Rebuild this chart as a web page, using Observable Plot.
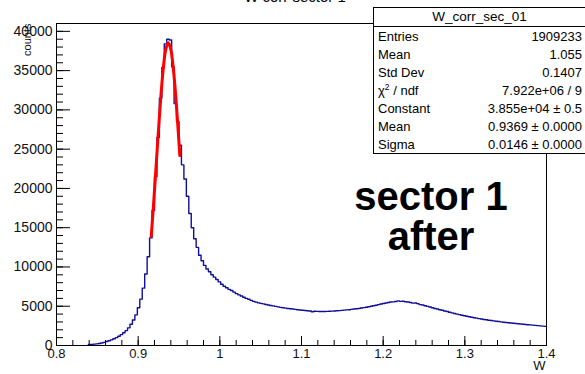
<!DOCTYPE html>
<html><head><meta charset="utf-8">
<script src="https://cdn.jsdelivr.net/npm/d3@7"></script>
<script src="https://cdn.jsdelivr.net/npm/@observablehq/plot@0.6"></script>
<style>
body{margin:0;background:#fff;}
#wrap{position:relative;width:585px;height:374px;overflow:hidden;font-family:"Liberation Sans",Arial,sans-serif;color:#000;}
#wrap svg{position:absolute;left:0;top:0;}
#title{position:absolute;left:0;width:590px;top:-11px;text-align:center;font-size:15px;line-height:15px;}
#stats{position:absolute;left:373px;top:7px;width:213px;height:147px;border:1px solid #000;background:#fff;box-sizing:border-box;font-size:13px;}
#stats .hd{position:absolute;left:0;right:0;top:0;height:18px;line-height:18px;text-align:center;border-bottom:1px solid #000;font-size:13.5px;}
#stats .row{position:absolute;left:4px;right:3px;height:18px;line-height:18px;white-space:nowrap;}
#stats .row .l{position:absolute;left:0;top:0;}
#stats .row .v{position:absolute;right:0;top:0;}
#stats sup{font-size:8.5px;line-height:0;vertical-align:5px;}
.big{position:absolute;font-weight:bold;font-size:40px;line-height:40px;text-align:center;width:200px;left:331px;}
</style></head>
<body><div id="wrap"></div>
<script>
// Histogram definition (ROOT TH1): 200 bins on [0.8, 1.4]
const histName = "W_corr_sec_01";
const titleText = "W corr sector 1";
const xMin = 0.8, xMax = 1.4, nBins = 200;
const counts = [
  0,0,0,0,0,0,0,0,0,0,0,0,0,
  120,140,170,210,260,320,400,500,600,720,
  860,1000,1180,1380,1620,1900,2250,2700,3250,3900,
  4800,5900,7300,9100,11300,13700,17200,21500,26500,31500,
  35400,38400,39000,38900,35500,30800,28500,25500,23000,21200,
  19000,16800,15000,13600,12500,11500,10800,10200,9750,9400,
  9000,8700,8400,8100,7800,7550,7350,7150,7000,6800,
  6600,6450,6300,6150,6000,5880,5750,5620,5520,5430,
  5370,5300,5230,5160,5100,5040,4980,4920,4860,4810,
  4760,4720,4680,4640,4600,4560,4520,4480,4450,4420,
  4390,4300,4370,4350,4330,4320,4330,4340,4360,4380,
  4400,4420,4440,4470,4500,4530,4560,4600,4640,4680,
  4720,4770,4820,4870,4930,4990,5060,5130,5200,5280,
  5350,5420,5480,5530,5560,5600,5680,5620,5640,5580,
  5540,5480,5400,5420,5330,5200,5150,5060,4980,4900,
  4800,4720,4640,4560,4480,4400,4320,4240,4160,4080,
  4000,3930,3860,3790,3720,3660,3600,3540,3480,3420,
  3370,3320,3270,3220,3180,3130,3090,3050,3010,2970,
  2930,2890,2860,2830,2800,2770,2740,2710,2680,2650,
  2620,2590,2560,2530,2500,2470,2440
];
// Gaussian fit curve
const fitW = [0.916,0.919,0.922,0.925,0.928,0.931,0.934,0.937,0.940,0.943,0.946,0.949,0.951];
const fitV = [13900,18180,22900,27650,32010,35530,37800,38550,37690,35330,31740,27340,24180];
// Axis ticks
const yMajor = [0,5000,10000,15000,20000,25000,30000,35000,40000];
const yMinor = d3.range(0, 41000, 1000);
const xMajor = [0.8,0.9,1.0,1.1,1.2,1.3,1.4];
const xMinor = d3.range(0, 31).map(i => 0.8 + i*0.02);
// Stats box
const statLabels = ["Entries","Mean","Std Dev","χ<sup>2</sup> / ndf","Constant","Mean","Sigma"];
const statValues = ["1909233","1.055","0.1407","7.922e+06 / 9","3.855e+04 ± 0.5","0.9369 ± 0.0000","0.0146 ± 0.0000"];
const annotation = ["sector 1","after"];

const binW = (xMax - xMin)/nBins;
const first = counts.findIndex(c => c > 0);
const outline = [];
counts.forEach((c,i) => { if (i < first) return; outline.push({x: xMin + i*binW, y: c}, {x: xMin + (i+1)*binW, y: c}); });
const fit = fitW.map((w,i) => ({x: w, y: fitV[i]}));

const font = "Liberation Sans, Arial, sans-serif";
const chart = Plot.plot({
  width: 585, height: 374,
  marginLeft: 56, marginRight: 39, marginTop: 23, marginBottom: 29,
  style: {fontFamily: font, background: "transparent", color: "#000"},
  x: {domain: [xMin, xMax]},
  y: {domain: [0, 41000]},
  marks: [
    Plot.line(outline, {x: "x", y: "y", stroke: "#10109a", strokeWidth: 1.4}),
    Plot.line(fit, {x: "x", y: "y", stroke: "#ff0000", strokeWidth: 3, curve: "catmull-rom"}),
    Plot.frame({stroke: "#000", strokeWidth: 1}),
    Plot.axisY({ticks: yMajor, tickSize: -14, tickFormat: () => "", label: null, stroke: "#000"}),
    Plot.axisY({ticks: yMinor, tickSize: -7, tickFormat: () => "", label: null, stroke: "#000"}),
    Plot.axisY({ticks: yMajor, tickSize: 0, tickPadding: 4, label: null, fontSize: 14, fill: "#111", tickFormat: d => String(d)}),
    Plot.axisX({ticks: xMajor, tickSize: -9, tickFormat: () => "", label: null, stroke: "#000"}),
    Plot.axisX({ticks: xMinor, tickSize: -5, tickFormat: () => "", label: null, stroke: "#000"}),
    Plot.axisX({ticks: xMajor, tickSize: 0, tickPadding: 3, label: null, fontSize: 13, fill: "#111", tickFormat: d => String(+d.toFixed(1))}),
    Plot.text(["W"], {frameAnchor: "bottom-right", dy: 24, fontSize: 13, fill: "#111", textAnchor: "end", dx: -1}),
    Plot.text(["counts"], {frameAnchor: "top-left", rotate: -90, textAnchor: "end", dx: -33, dy: 0, fontSize: 11, fill: "#111"})
  ]
});
const wrap = document.getElementById("wrap");
wrap.appendChild(chart);
const t = document.createElement("div"); t.id = "title"; t.textContent = titleText; wrap.appendChild(t);
const s = document.createElement("div"); s.id = "stats";
s.innerHTML = `<div class="hd">${histName}</div>` + statLabels.map((l,i) =>
  `<div class="row" style="top:${20 + 18*i}px"><span class="l">${l}</span><span class="v">${statValues[i]}</span></div>`).join("");
wrap.appendChild(s);
annotation.forEach((a,i) => { const d = document.createElement("div"); d.className = "big"; d.style.top = (176 + 40*i) + "px"; d.textContent = a; wrap.appendChild(d); });
</script></body></html>
